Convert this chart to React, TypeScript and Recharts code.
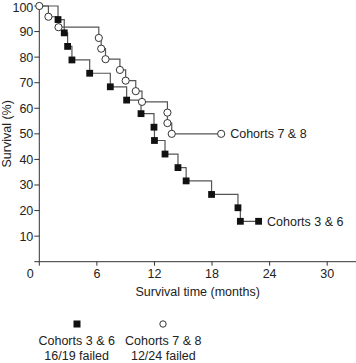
import React from 'react';
import { ComposedChart, Line, Scatter, XAxis, YAxis } from 'recharts';

// Kaplan-Meier curves (months, survival %)
const cohort36Times = [0, 1.95, 2.6, 2.95, 3.4, 5.25, 7.4, 9.1, 10.6, 11.95, 12.0, 13.1, 14.45, 15.3, 17.95, 20.7, 20.95, 22.85];
const cohort36Survival = [100, 94.7, 89.5, 84.2, 78.9, 73.7, 68.4, 63.2, 57.9, 52.6, 47.4, 42.1, 36.8, 31.6, 26.3, 21.1, 15.8, 15.8];
const cohort78Times = [0, 0.95, 2.0, 6.2, 6.45, 6.9, 8.4, 9.0, 10.05, 10.7, 13.35, 13.35, 13.8, 18.95];
const cohort78Survival = [100, 95.8, 91.7, 87.5, 83.3, 79.2, 75.0, 70.8, 66.7, 62.5, 58.3, 54.2, 50.0, 50.0];

const xTicks = [0, 6, 12, 18, 24, 30];
const yTicks = [0, 10, 20, 30, 40, 50, 60, 70, 80, 90, 100];

const seriesNames = ['Cohorts 3 & 6', 'Cohorts 7 & 8'];
const legendSubtitles = ['16/19 failed', '12/24 failed'];

const FONT = '"Liberation Sans", Arial, sans-serif';
const TEXT = '#222';
const LINE = '#555';

const build = (times: number[], surv: number[], label: string) =>
  times.map((t, i) => ({ t, s: surv[i], label: i === times.length - 1 ? label : undefined }));

const data36 = build(cohort36Times, cohort36Survival, seriesNames[0]);
const data78 = build(cohort78Times, cohort78Survival, seriesNames[1]);
const markers36 = data36.slice(1);
const markers78 = data78;

const SquareShape = (props: any) => {
  const { cx, cy, payload } = props;
  if (cx == null || cy == null) return null;
  return (
    <g>
      <rect x={cx - 3.4} y={cy - 3.4} width={6.8} height={6.8} fill="#111" />
      {payload && payload.label ? (
        <text x={cx + 8.5} y={cy} dy="0.36em" fontFamily={FONT} fontSize={12.5} fill={TEXT}>
          {payload.label}
        </text>
      ) : null}
    </g>
  );
};

const CircleShape = (props: any) => {
  const { cx, cy, payload } = props;
  if (cx == null || cy == null) return null;
  return (
    <g>
      <circle cx={cx} cy={cy} r={3.6} fill="#fff" stroke="#333" strokeWidth={1} />
      {payload && payload.label ? (
        <text x={cx + 9} y={cy} dy="0.36em" fontFamily={FONT} fontSize={12.5} fill={TEXT}>
          {payload.label}
        </text>
      ) : null}
    </g>
  );
};

const XTick = (props: any) => {
  const { x, y, payload } = props;
  const isZero = payload.value === 0;
  return (
    <text
      x={isZero ? x - 5.5 : x}
      y={y}
      dy="0.71em"
      textAnchor={isZero ? 'end' : 'middle'}
      fontFamily={FONT}
      fontSize={12.5}
      fill={TEXT}
    >
      {payload.value}
    </text>
  );
};

export default function App() {
  return (
    <div style={{ position: 'absolute', left: 0, top: 0, width: 356, height: 363, background: '#fff' }}>
      <ComposedChart width={356} height={300} margin={{ top: 6, right: 0, bottom: 0, left: 0 }}>
        <XAxis
          type="number"
          dataKey="t"
          domain={[0, 33]}
          ticks={xTicks}
          height={38.3}
          tickSize={4}
          tickMargin={3}
          stroke="#333"
          tick={<XTick />}
          label={{
            value: 'Survival time (months)',
            position: 'insideBottom',
            offset: 4,
            style: { fontFamily: FONT, fontSize: 12.5, fill: TEXT },
          }}
        />
        <YAxis
          type="number"
          dataKey="s"
          domain={[0, 100]}
          ticks={yTicks}
          width={39.3}
          tickSize={5}
          tickMargin={1}
          stroke="#333"
          tickFormatter={(v: number) => (v === 0 ? '' : String(v))}
          tick={{ fontFamily: FONT, fontSize: 12.5, fill: TEXT }}
          label={{
            value: 'Survival (%)',
            angle: -90,
            position: 'insideLeft',
            offset: 7,
            style: { fontFamily: FONT, fontSize: 12.5, fill: TEXT, textAnchor: 'middle' },
          }}
        />
        <Line
          data={data36}
          dataKey="s"
          type="stepAfter"
          stroke={LINE}
          strokeWidth={1.2}
          dot={false}
          activeDot={false}
          isAnimationActive={false}
        />
        <Line
          data={data78}
          dataKey="s"
          type="stepAfter"
          stroke={LINE}
          strokeWidth={1.2}
          dot={false}
          activeDot={false}
          isAnimationActive={false}
        />
        <Scatter data={markers36} dataKey="s" shape={<SquareShape />} isAnimationActive={false} />
        <Scatter data={markers78} dataKey="s" shape={<CircleShape />} isAnimationActive={false} />
      </ComposedChart>
      {seriesNames.map((name, i) => (
        <div
          key={name}
          style={{
            position: 'absolute',
            left: (i === 0 ? 76.7 : 163.3) - 45,
            top: 319,
            width: 90,
            textAlign: 'center',
            fontFamily: FONT,
            fontSize: 12.5,
            lineHeight: '15px',
            color: TEXT,
          }}
        >
          <svg width={10} height={10} style={{ display: 'block', margin: '0 auto' }}>
            {i === 0 ? (
              <rect x={1.5} y={1.5} width={7} height={7} fill="#111" />
            ) : (
              <circle cx={5} cy={5} r={3.2} fill="#fff" stroke="#333" strokeWidth={1} />
            )}
          </svg>
          <div style={{ marginTop: 5 }}>{name}</div>
          <div>{legendSubtitles[i]}</div>
        </div>
      ))}
    </div>
  );
}
